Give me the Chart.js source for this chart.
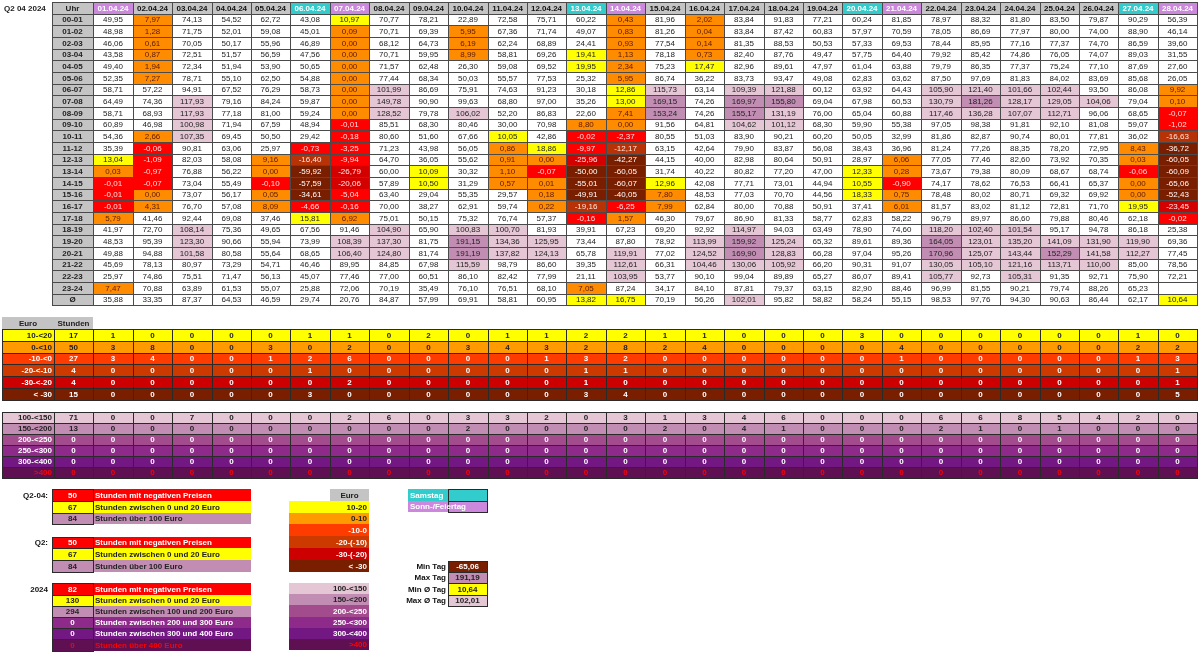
<!DOCTYPE html>
<html>
<head>
<meta charset="utf-8">
<script src="https://cdn.jsdelivr.net/npm/chart.js@4.4.1/dist/chart.umd.min.js"></script>
<style>
    html, body { margin: 0; padding: 0; background: #fff; }
    #wrap { width: 1200px; height: 654px; position: relative; }
</style>
</head>
<body>
<div id="wrap"><canvas id="strompreisChart"></canvas></div>
<script>
// ---- Daten ----
const titel = "Q2 04 2024";
const tage = ["01.04.24", "02.04.24", "03.04.24", "04.04.24", "05.04.24", "06.04.24", "07.04.24",
    "08.04.24", "09.04.24", "10.04.24", "11.04.24", "12.04.24", "13.04.24", "14.04.24",
    "15.04.24", "16.04.24", "17.04.24", "18.04.24", "19.04.24", "20.04.24", "21.04.24",
    "22.04.24", "23.04.24", "24.04.24", "25.04.24", "26.04.24", "27.04.24", "28.04.24"];
// W = Werktag, S = Samstag, F = Sonn-/Feiertag
const tagArt = ["F", "W", "W", "W", "W", "S", "F", "W", "W", "W", "W", "W", "S", "F",
    "W", "W", "W", "W", "W", "S", "F", "W", "W", "W", "W", "W", "S", "F"];
const stunden = ["00-01", "01-02", "02-03", "03-04", "04-05", "05-06", "06-07", "07-08",
    "08-09", "09-10", "10-11", "11-12", "12-13", "13-14", "14-15", "15-16", "16-17",
    "17-18", "18-19", "19-20", "20-21", "21-22", "22-23", "23-24"];

// Preise je Stunde (Zeile) und Tag (Spalte), Euro/MWh
const preise = [
    [49.95, 7.97, 74.13, 54.52, 62.72, 43.08, 10.97, 70.77, 78.21, 22.89, 72.58, 75.71, 60.22, 0.43, 81.96, 2.02, 83.84, 91.83, 77.21, 60.24, 81.85, 78.97, 88.32, 81.80, 83.50, 79.87, 90.29, 56.39],
    [48.98, 1.28, 71.75, 52.01, 59.08, 45.01, 0.09, 70.71, 69.39, 5.95, 67.36, 71.74, 49.07, 0.83, 81.26, 0.04, 83.84, 87.42, 60.83, 57.97, 70.59, 78.05, 86.69, 77.97, 80.00, 74.00, 88.90, 46.14],
    [46.06, 0.61, 70.05, 50.17, 55.96, 46.89, 0.00, 68.12, 64.73, 6.19, 62.24, 68.89, 24.41, 0.93, 77.54, 0.14, 81.35, 88.53, 50.53, 57.33, 69.53, 78.44, 85.95, 77.16, 77.37, 74.70, 86.59, 39.60],
    [43.58, 0.87, 72.51, 51.57, 56.59, 47.56, 0.00, 70.71, 59.95, 8.99, 58.81, 69.26, 19.41, 1.13, 78.18, 0.73, 82.40, 87.76, 49.47, 57.75, 64.40, 79.92, 85.42, 74.86, 76.05, 74.07, 89.03, 31.55],
    [49.40, 1.94, 72.34, 51.94, 53.90, 50.65, 0.00, 71.57, 62.48, 26.30, 59.08, 69.52, 19.95, 2.34, 75.23, 17.47, 82.96, 89.61, 47.97, 61.04, 63.88, 79.79, 86.35, 77.37, 75.24, 77.10, 87.69, 27.60],
    [52.35, 7.27, 78.71, 55.10, 62.50, 54.88, 0.00, 77.44, 68.34, 50.03, 55.57, 77.53, 25.32, 5.95, 86.74, 36.22, 83.73, 93.47, 49.08, 62.83, 63.62, 87.50, 97.69, 81.83, 84.02, 83.69, 85.68, 26.05],
    [58.71, 57.22, 94.91, 67.52, 76.29, 58.73, 0.00, 101.99, 86.69, 75.91, 74.63, 91.23, 30.18, 12.86, 115.73, 63.14, 109.39, 121.88, 60.12, 63.92, 64.43, 105.90, 121.40, 101.66, 102.44, 93.50, 86.08, 9.92],
    [64.49, 74.36, 117.93, 79.16, 84.24, 59.87, 0.00, 149.78, 90.90, 99.63, 68.80, 97.00, 35.26, 13.00, 169.15, 74.26, 169.97, 155.80, 69.04, 67.98, 60.53, 130.79, 181.26, 128.17, 129.05, 104.06, 79.04, 0.10],
    [58.71, 68.93, 117.93, 77.18, 81.00, 59.24, 0.00, 128.52, 79.78, 106.02, 52.20, 86.83, 22.60, 7.41, 153.24, 74.26, 155.17, 131.19, 76.00, 65.04, 60.88, 117.46, 136.28, 107.07, 112.71, 96.06, 68.65, -0.07],
    [60.89, 46.98, 100.98, 71.94, 67.59, 48.94, -0.01, 85.51, 68.30, 80.46, 30.00, 70.98, 8.80, 0.00, 91.56, 64.81, 104.62, 101.12, 68.30, 59.90, 55.38, 97.05, 98.38, 91.81, 92.10, 81.08, 59.07, -1.02],
    [54.36, 2.66, 107.35, 69.45, 50.50, 29.42, -0.18, 80.60, 51.60, 67.66, 10.05, 42.86, -0.02, -2.37, 80.55, 51.03, 83.90, 90.21, 60.20, 50.05, 32.99, 81.86, 82.87, 90.74, 80.01, 77.81, 36.02, -16.63],
    [35.39, -0.06, 90.81, 63.06, 25.97, -0.73, -3.25, 71.23, 43.98, 56.05, 0.86, 18.86, -9.97, -12.17, 63.15, 42.64, 79.90, 83.87, 56.08, 38.43, 36.96, 81.24, 77.26, 88.35, 78.20, 72.95, 8.43, -36.72],
    [13.04, -1.09, 82.03, 58.08, 9.16, -16.40, -9.94, 64.70, 36.05, 55.62, 0.91, 0.00, -25.96, -42.27, 44.15, 40.00, 82.98, 80.64, 50.91, 28.97, 6.06, 77.05, 77.46, 82.60, 73.92, 70.35, 0.03, -60.05],
    [0.03, -0.97, 76.88, 56.22, 0.00, -59.92, -26.79, 60.00, 10.09, 30.32, 1.10, -0.07, -50.00, -60.05, 31.74, 40.22, 80.82, 77.20, 47.00, 12.33, 0.28, 73.67, 79.38, 80.09, 68.67, 68.74, -0.06, -60.09],
    [-0.01, -0.07, 73.04, 55.49, -0.10, -57.59, -20.06, 57.89, 10.50, 31.29, 0.57, 0.01, -55.01, -60.07, 12.96, 42.08, 77.71, 73.01, 44.94, 10.55, -0.90, 74.17, 78.62, 76.53, 66.41, 65.37, 0.00, -65.06],
    [-0.01, 0.00, 73.07, 56.17, 0.05, -34.61, -5.04, 63.40, 29.04, 55.35, 29.57, 0.18, -49.91, -40.05, 7.80, 48.53, 77.03, 70.70, 44.56, 18.33, 0.75, 78.48, 80.02, 80.71, 69.32, 69.92, 0.00, -52.43],
    [-0.01, 4.31, 76.70, 57.08, 8.09, -4.66, -0.16, 70.00, 38.27, 62.91, 59.74, 0.22, -19.16, -6.25, 7.99, 62.84, 80.00, 70.88, 50.91, 37.41, 6.01, 81.57, 83.02, 81.12, 72.81, 71.70, 19.95, -23.45],
    [5.79, 41.46, 92.44, 69.08, 37.46, 15.81, 6.92, 75.01, 50.15, 75.32, 76.74, 57.37, -0.16, 1.57, 46.30, 79.67, 86.90, 81.33, 58.77, 62.83, 58.22, 96.79, 89.97, 86.60, 79.88, 80.46, 62.18, -0.02],
    [41.97, 72.70, 108.14, 75.36, 49.65, 67.56, 91.46, 104.90, 65.90, 100.83, 100.70, 81.93, 39.91, 67.23, 69.20, 92.92, 114.97, 94.03, 63.49, 78.90, 74.60, 118.20, 102.40, 101.54, 95.17, 94.78, 86.18, 25.38],
    [48.53, 95.39, 123.30, 90.66, 55.94, 73.99, 108.39, 137.30, 81.75, 191.15, 134.36, 125.95, 73.44, 87.80, 78.92, 113.99, 159.92, 125.24, 65.32, 89.61, 89.36, 164.05, 123.01, 135.20, 141.09, 131.90, 119.90, 69.36],
    [49.88, 94.88, 101.58, 80.58, 55.64, 68.65, 106.40, 124.80, 81.74, 191.19, 137.82, 124.13, 65.78, 119.91, 77.02, 124.52, 169.90, 128.83, 66.28, 97.04, 95.26, 170.96, 125.07, 143.44, 152.29, 141.58, 112.27, 77.45],
    [45.69, 78.13, 80.97, 73.29, 54.71, 46.46, 89.95, 84.85, 67.98, 115.59, 98.79, 86.60, 39.35, 112.61, 66.31, 104.46, 130.06, 105.92, 66.20, 90.31, 91.07, 130.05, 105.10, 121.16, 113.71, 110.00, 85.00, 78.56],
    [25.97, 74.86, 75.51, 71.47, 56.13, 45.07, 77.46, 77.00, 60.51, 86.10, 82.42, 77.99, 21.11, 103.95, 53.77, 90.10, 99.04, 89.89, 65.27, 86.07, 89.41, 105.77, 92.73, 105.31, 91.35, 92.71, 75.90, 72.21],
    [7.47, 70.88, 63.89, 61.53, 55.07, 25.88, 72.06, 70.19, 35.49, 76.10, 76.51, 68.10, 7.05, 87.24, 34.17, 84.10, 87.81, 79.37, 63.15, 82.90, 88.46, 96.99, 81.55, 90.21, 79.74, 88.26, 65.23, null],
];
const tagesMittel = [35.88, 33.35, 87.37, 64.53, 46.59, 29.74, 20.76, 84.87, 57.99, 69.91, 58.81, 60.95, 13.82, 16.75, 70.19, 56.26, 102.01, 95.82, 58.82, 58.24, 55.15, 98.53, 97.76, 94.30, 90.63, 86.44, 62.17, 10.64];

// Stundenzählung je Preisband
const negBaender = ["10-<20", "0-<10", "-10-<0", "-20-<-10", "-30-<-20", "< -30"];
const negSummen = [17, 50, 27, 4, 4, 15];
const negAnzahl = [
    [1, 0, 0, 0, 0, 1, 1, 0, 2, 0, 1, 1, 2, 2, 1, 1, 0, 0, 0, 3, 0, 0, 0, 0, 0, 0, 1, 0],
    [3, 8, 0, 0, 3, 0, 2, 0, 0, 3, 4, 3, 2, 8, 2, 4, 0, 0, 0, 0, 4, 0, 0, 0, 0, 0, 2, 2],
    [3, 4, 0, 0, 1, 2, 6, 0, 0, 0, 0, 1, 3, 2, 0, 0, 0, 0, 0, 0, 1, 0, 0, 0, 0, 0, 1, 3],
    [0, 0, 0, 0, 0, 1, 0, 0, 0, 0, 0, 0, 1, 1, 0, 0, 0, 0, 0, 0, 0, 0, 0, 0, 0, 0, 0, 1],
    [0, 0, 0, 0, 0, 0, 2, 0, 0, 0, 0, 0, 1, 0, 0, 0, 0, 0, 0, 0, 0, 0, 0, 0, 0, 0, 0, 1],
    [0, 0, 0, 0, 0, 3, 0, 0, 0, 0, 0, 0, 3, 4, 0, 0, 0, 0, 0, 0, 0, 0, 0, 0, 0, 0, 0, 5],
];
const hochBaender = ["100-<150", "150-<200", "200-<250", "250-<300", "300-<400", ">400"];
const hochSummen = [71, 13, 0, 0, 0, 0];
const hochAnzahl = [
    [0, 0, 7, 0, 0, 0, 2, 6, 0, 3, 3, 2, 0, 3, 1, 3, 4, 6, 0, 0, 0, 6, 6, 8, 5, 4, 2, 0],
    [0, 0, 0, 0, 0, 0, 0, 0, 0, 2, 0, 0, 0, 0, 2, 0, 4, 1, 0, 0, 0, 2, 1, 0, 1, 0, 0, 0],
    [0, 0, 0, 0, 0, 0, 0, 0, 0, 0, 0, 0, 0, 0, 0, 0, 0, 0, 0, 0, 0, 0, 0, 0, 0, 0, 0, 0],
    [0, 0, 0, 0, 0, 0, 0, 0, 0, 0, 0, 0, 0, 0, 0, 0, 0, 0, 0, 0, 0, 0, 0, 0, 0, 0, 0, 0],
    [0, 0, 0, 0, 0, 0, 0, 0, 0, 0, 0, 0, 0, 0, 0, 0, 0, 0, 0, 0, 0, 0, 0, 0, 0, 0, 0, 0],
    [0, 0, 0, 0, 0, 0, 0, 0, 0, 0, 0, 0, 0, 0, 0, 0, 0, 0, 0, 0, 0, 0, 0, 0, 0, 0, 0, 0],
];

// Zusammenfassung
const q204Werte = [50, 67, 84];
const q2Werte = [50, 67, 84];
const jahrWerte = [82, 130, 294, 0, 0, 0];
const quartalTexte = ["Stunden mit negativen Preisen", "Stunden zwischen 0 und 20 Euro", "Stunden über 100 Euro"];
const jahrTexte = ["Stunden mit negativen Preisen", "Stunden zwischen 0 und 20 Euro", "Stunden zwischen 100 und 200 Euro",
    "Stunden zwischen 200 und 300 Euro", "Stunden zwischen 300 und 400 Euro", "Stunden über 400 Euro"];
const legendeNeg = ["10-20", "0-10", "-10-0", "-20-(-10)", "-30-(-20)", "< -30"];
const legendeHoch = ["100-<150", "150-<200", "200-<250", "250-<300", "300-<400", ">400"];
const extremTexte = ["Min Tag", "Max Tag", "Min Ø Tag", "Max Ø Tag"];
const extremWerte = [-65.06, 191.19, 10.64, 102.01];

// ---- Farben / Layout ----
const FARBE = {
    grau: "#c4c4c4", samstag: "#33cccc", feiertag: "#cc88dd",
    gelb: "#ffff00", orange: "#ff8c00", rot: "#ff0000",
    neg20: "#b83208", neg30: "#d40000", negTief: "#7a1e00",
    rosa: "#e4c6d4", mauve: "#c28db3",
};
const negFarben = ["#ffff00", "#ff9a00", "#ff3c00", "#cc3a00", "#cc0000", "#7a1e00"];
const negSchrift = ["#222", "#222", "#fff", "#fff", "#fff", "#fff"];
const hochFarben = ["#e4c6d4", "#c28db3", "#a24b8d", "#8e2a8a", "#731883", "#5e1052"];
const hochSchrift = ["#222", "#222", "#fff", "#fff", "#fff", "#ff0000"];

const GRID = { uhrX: 51.7, x0: 93.3, colW: 39.43, kopfY: 2, kopfH: 11.5, rowH: 11.67 };
const FONT = '"Liberation Sans", Arial, sans-serif';

function preisFarbe(v) {
    if (v === null) return { bg: "#ffffff", fg: "#222" };
    if (v < -30) return { bg: FARBE.negTief, fg: "#ffffff" };
    if (v < -20) return { bg: FARBE.neg30, fg: "#ffe6e6" };
    if (v < -10) return { bg: FARBE.neg20, fg: "#ffe6dc" };
    if (v < 0) return { bg: FARBE.rot, fg: "#ffdede" };
    if (v < 10) return { bg: FARBE.orange, fg: "#5a1a00" };
    if (v < 20) return { bg: FARBE.gelb, fg: "#222" };
    if (v < 100) return { bg: "#ffffff", fg: "#222" };
    if (v < 150) return { bg: FARBE.rosa, fg: "#222" };
    return { bg: FARBE.mauve, fg: "#222" };
}

function fmt(v) {
    return v === null ? "" : v.toFixed(2).replace(".", ",");
}

// Zelle über die Achsen des Diagramms zeichnen
function zelle(chart, x, y, w, h, opt) {
    const c = chart.ctx, sx = chart.scales.x, sy = chart.scales.y;
    const x1 = Math.round(sx.getPixelForValue(x)), x2 = Math.round(sx.getPixelForValue(x + w));
    const y1 = Math.round(sy.getPixelForValue(y)), y2 = Math.round(sy.getPixelForValue(y + h));
    if (opt.bg) {
        c.fillStyle = opt.bg;
        c.fillRect(x1, y1, x2 - x1, y2 - y1);
    }
    if (opt.rand) {
        c.strokeStyle = opt.rand;
        c.lineWidth = 1;
        c.strokeRect(x1 + 0.5, y1 + 0.5, x2 - x1, y2 - y1);
    }
    if (opt.text !== undefined && opt.text !== "") {
        c.fillStyle = opt.fg || "#222";
        c.font = (opt.bold ? "bold " : "") + (opt.size || 8) + "px " + FONT;
        c.textBaseline = "middle";
        const ym = (y1 + y2) / 2 + 0.5;
        if (opt.align === "right") {
            c.textAlign = "right";
            c.fillText(opt.text, x2 - 2, ym);
        } else if (opt.align === "left") {
            c.textAlign = "left";
            c.fillText(opt.text, x1 + 2, ym);
        } else {
            c.textAlign = "center";
            c.fillText(opt.text, (x1 + x2) / 2, ym);
        }
    }
}

function zeichneHaupttabelle(chart) {
    const g = GRID, rand = "#4a4a4a";
    zelle(chart, 2, g.kopfY, 48, g.kopfH, { text: titel, bold: true, align: "left" });
    zelle(chart, g.uhrX, g.kopfY, g.x0 - g.uhrX, g.kopfH, { bg: FARBE.grau, rand, text: "Uhr", bold: true });
    tage.forEach((t, i) => {
        const art = tagArt[i];
        const bg = art === "S" ? FARBE.samstag : art === "F" ? FARBE.feiertag : FARBE.grau;
        const fg = art === "W" ? "#111" : "#ffffff";
        zelle(chart, g.x0 + i * g.colW, g.kopfY, g.colW, g.kopfH, { bg, rand, text: t, bold: true, fg });
    });

    const zeilen = preise.concat([tagesMittel]);
    const labels = stunden.concat(["Ø"]);
    zeilen.forEach((reihe, r) => {
        const y = g.kopfY + g.kopfH + r * g.rowH;
        zelle(chart, g.uhrX, y, g.x0 - g.uhrX, g.rowH, { bg: FARBE.grau, rand, text: labels[r], bold: true, fg: "#222" });
        reihe.forEach((v, i) => {
            const f = preisFarbe(v);
            zelle(chart, g.x0 + i * g.colW, y, g.colW, g.rowH, { bg: f.bg, rand, text: fmt(v), fg: f.fg });
        });
    });
}

function zeichneZaehlung(chart) {
    const g = GRID, rand = "#2a2a2a";
    zelle(chart, 2, 317.3, 51.6, 11.7, { bg: FARBE.grau, text: "Euro", bold: true });
    zelle(chart, 53.6, 317.3, g.x0 - 53.6, 11.7, { bg: FARBE.grau, text: "Stunden", bold: true });

    const gruppen = [
        { top: 329, h: 11.83, baender: negBaender, summen: negSummen, anzahl: negAnzahl, farben: negFarben, schrift: negSchrift },
        { top: 411.7, h: 11.1, baender: hochBaender, summen: hochSummen, anzahl: hochAnzahl, farben: hochFarben, schrift: hochSchrift },
    ];
    gruppen.forEach((gr) => {
        gr.baender.forEach((b, k) => {
            const y = gr.top + k * gr.h;
            const bg = gr.farben[k], fg = gr.schrift[k];
            zelle(chart, 2, y, 51.6, gr.h, { bg, rand, text: b, bold: true, fg, align: "right" });
            zelle(chart, 53.6, y, g.x0 - 53.6, gr.h, { bg, rand, text: String(gr.summen[k]), bold: true, fg });
            gr.anzahl[k].forEach((n, i) => {
                zelle(chart, g.x0 + i * g.colW, y, g.colW, gr.h, { bg, rand, text: String(n), bold: true, fg });
            });
        });
    });
}

function zeichneZusammenfassung(chart) {
    const rand = "#2a2a2a";
    const blockFarben = [
        { bg: FARBE.rot, fg: "#ffffff" },
        { bg: FARBE.gelb, fg: "#222" },
        { bg: hochFarben[1], fg: "#222" },
        { bg: hochFarben[3], fg: "#ffffff" },
        { bg: hochFarben[4], fg: "#ffffff" },
        { bg: hochFarben[5], fg: "#ff0000" },
    ];
    const bloecke = [
        { titel: "Q2-04:", top: 489.3, h: 11.7, werte: q204Werte, texte: quartalTexte },
        { titel: "Q2:", top: 536.7, h: 11.7, werte: q2Werte, texte: quartalTexte },
        { titel: "2024", top: 583.3, h: 11.2, werte: jahrWerte, texte: jahrTexte },
    ];
    bloecke.forEach((b) => {
        zelle(chart, 10, b.top, 40, b.h, { text: b.titel, bold: true, align: "right", fg: "#111" });
        b.werte.forEach((w, k) => {
            const y = b.top + k * b.h;
            const f = blockFarben[k];
            zelle(chart, 93.3, y, 157.4, b.h, { bg: f.bg, text: b.texte[k], bold: true, fg: f.fg, align: "left" });
            zelle(chart, 51.7, y, 41.6, b.h, { bg: f.bg, rand, text: String(w), bold: true, fg: f.fg });
        });
    });

    // Farblegende
    zelle(chart, 330, 489.3, 38.5, 11.4, { bg: FARBE.grau, text: "Euro", bold: true });
    legendeNeg.forEach((t, k) => {
        zelle(chart, 289, 500.7 + k * 11.83, 79.5, 11.83, { bg: negFarben[k], text: t, bold: true, fg: negSchrift[k], align: "right" });
    });
    legendeHoch.forEach((t, k) => {
        zelle(chart, 289, 582.7 + k * 11.27, 79.5, 11.27, { bg: hochFarben[k], text: t, bold: true, fg: hochSchrift[k], align: "right" });
    });

    // Tagesarten
    zelle(chart, 408, 489.3, 40, 11.5, { bg: FARBE.samstag });
    zelle(chart, 448, 489.3, 39, 11.5, { bg: FARBE.samstag, rand });
    zelle(chart, 408, 489.3, 80, 11.5, { text: "Samstag", bold: true, fg: "#ffffff", align: "left" });
    zelle(chart, 408, 500.8, 40, 11.5, { bg: FARBE.feiertag });
    zelle(chart, 448, 500.8, 39, 11.5, { bg: FARBE.feiertag, rand });
    zelle(chart, 408, 500.8, 80, 11.5, { text: "Sonn-/Feiertag", bold: true, fg: "#ffffff", align: "left" });

    // Extremwerte
    extremTexte.forEach((t, k) => {
        const y = 560.7 + k * 11.3;
        const f = preisFarbe(extremWerte[k]);
        zelle(chart, 380, y, 68, 11.3, { text: t, bold: true, align: "right", fg: "#111" });
        zelle(chart, 448, y, 39, 11.3, { bg: f.bg, rand, text: fmt(extremWerte[k]), bold: true, fg: f.fg });
    });
}

const tabellenPlugin = {
    id: "tabellen",
    afterDraw(chart) {
        const c = chart.ctx;
        c.save();
        zeichneHaupttabelle(chart);
        zeichneZaehlung(chart);
        zeichneZusammenfassung(chart);
        c.restore();
    },
};

const ctx = document.getElementById("strompreisChart").getContext("2d");
const config = {
    type: "scatter",
    data: { datasets: [] },
    options: {
        responsive: true,
        maintainAspectRatio: false,
        animation: false,
        layout: { padding: 0 },
        plugins: { legend: { display: false }, tooltip: { enabled: false } },
        scales: {
            x: { type: "linear", min: 0, max: 1200, display: false },
            y: { type: "linear", min: 0, max: 654, reverse: true, display: false },
        },
    },
    plugins: [tabellenPlugin],
};
const strompreisChart = new Chart(ctx, config);
</script>
</body>
</html>
